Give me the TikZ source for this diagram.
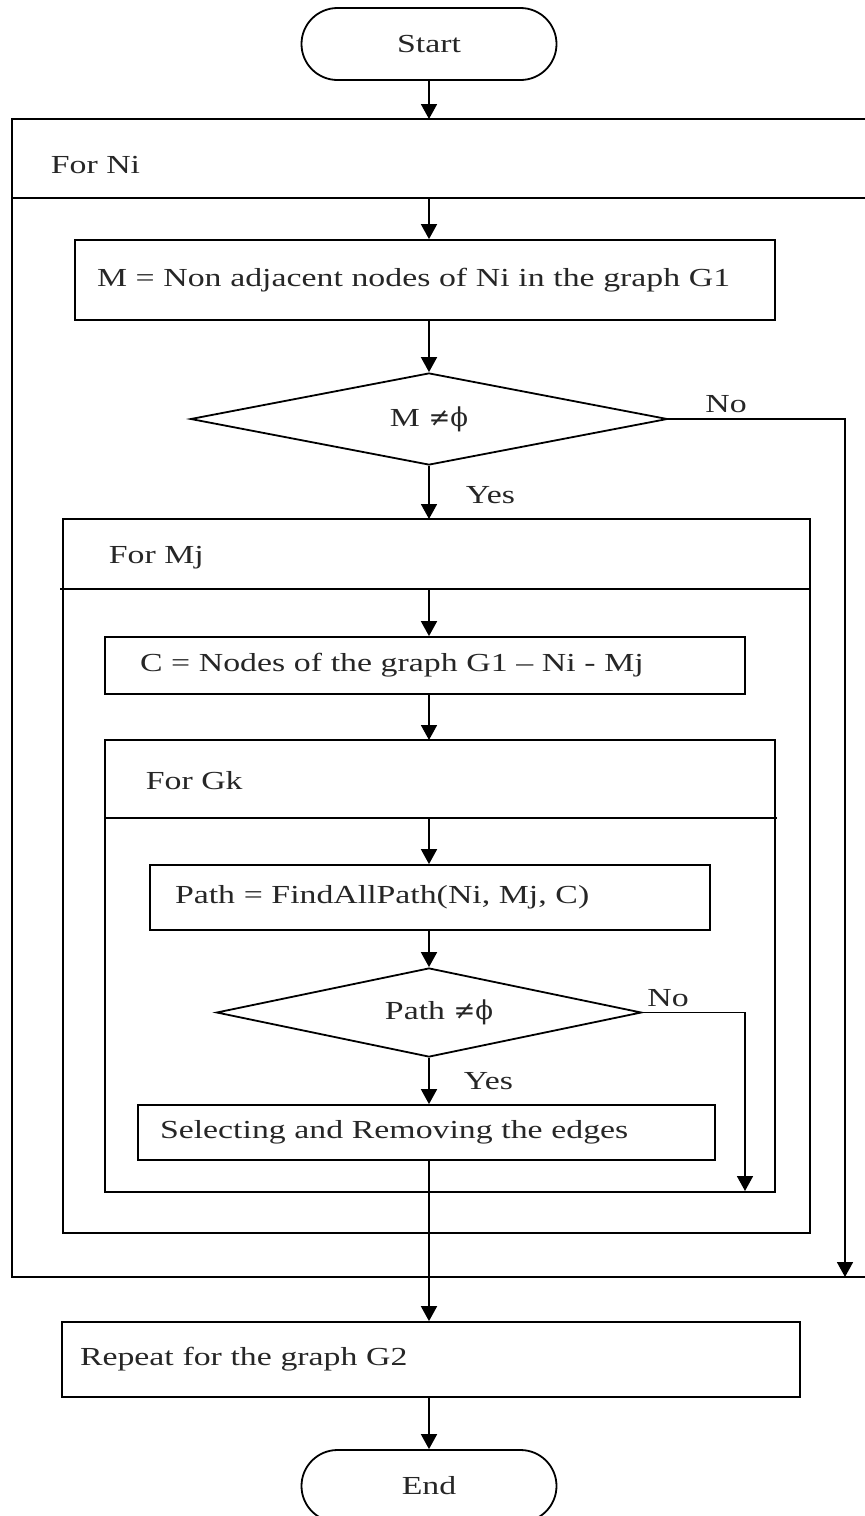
\documentclass[tikz,border=0pt]{standalone}
\usepackage{fontspec}
\setmainfont{Liberation Serif}[FakeStretch=1.3]
\newfontfamily\symfont{DejaVu Serif}
\usetikzlibrary{shapes.geometric,arrows.meta}
\begin{document}
\begin{tikzpicture}[x=1pt,y=-1pt,
  line width=1.8pt,
  every node/.style={font=\fontsize{26}{30}\selectfont, text=black!85},
  arr/.style={-{Triangle[width=16pt,length=15pt]}},
  term/.style={draw, rectangle, rounded corners=36pt, minimum width=255pt, minimum height=72pt, inner sep=0pt},
  proc/.style={draw, rectangle, inner xsep=0pt, inner ysep=0pt, align=left},
  dec/.style={draw, diamond, aspect=5, inner sep=0pt},
  lbl/.style={inner sep=0pt},
]
\useasboundingbox (0,0) rectangle (865,1516);
\coordinate (ax) at (429,0);

% Start
\node[term] (start) at (429,44) {Start};

% outer loop box (For Ni)
\coordinate (oTL) at (12,119);  \coordinate (oTR) at (866,119);
\coordinate (oHL) at (12,198);  \coordinate (oHR) at (866,198);
\coordinate (oBL) at (12,1277); \coordinate (oBR) at (866,1277);
\draw (oTR) -- (oTL) -- (oBL) -- (oBR);
\draw (oHL) -- (oHR);
\node[lbl, anchor=west] (forNi) at (50,165) {For Ni};
\draw[arr] (ax |- start.south) -- (ax |- oTL);

% M box
\node[proc, minimum width=700, minimum height=80, text width=700] (m) at (425,280)
  {\hspace*{22pt}M = Non adjacent nodes of Ni in the graph G1\\[-8pt]};
\draw[arr] (ax |- oHL) -- (ax |- m.north);

% decision M
\node[dec, minimum width=477, minimum height=92] (d1) at (429,419) {M {\symfont ≠ϕ}};
\draw[arr] (ax |- m.south) -- (d1.north);
\coordinate (no1) at (845,1277);
\draw[arr] (d1.east) -- (d1.east -| no1) -- (no1);
\node[lbl] (no1lbl) at (726,404) {No};

% Mj loop box
\coordinate (mjTL) at (63,519); \coordinate (mjBR) at (810,1233);
\draw (mjTL) rectangle (mjBR);
\coordinate (mjHL) at (60,589); \coordinate (mjHR) at (810,589);
\draw (mjHL) -- (mjHR);
\node[lbl, anchor=west] (forMj) at (108,558) {For Mj};
\draw[arr] (d1.south) -- (d1.south |- mjTL);
\node[lbl, anchor=west] (yes1) at (465,495) {Yes};

% C box
\node[proc, minimum width=640, minimum height=57, text width=640] (c) at (425,665.5)
  {\hspace*{35pt}C = Nodes of the graph G1 – Ni - Mj};
\draw[arr] (ax |- mjHL) -- (ax |- c.north);

% Gk loop box
\coordinate (gkTL) at (105,740); \coordinate (gkBR) at (775,1192);
\draw (gkTL) rectangle (gkBR);
\coordinate (gkHL) at (105,818); \coordinate (gkHR) at (777,818);
\draw (gkHL) -- (gkHR);
\node[lbl, anchor=west] (forGk) at (145,781) {For Gk};
\draw[arr] (ax |- c.south) -- (ax |- gkTL);

% Path box
\node[proc, minimum width=560, minimum height=65, text width=560] (p) at (430,897.5)
  {\hspace*{25pt}Path = FindAllPath(Ni, Mj, C)};
\draw[arr] (ax |- gkHL) -- (ax |- p.north);

% decision Path
\node[dec, minimum width=425, minimum height=89] (d2) at (429,1012.5) {\hspace*{20pt}Path {\symfont ≠ϕ}};
\draw[arr] (ax |- p.south) -- (d2.north);
\coordinate (no2) at (745,1191);
\draw[arr] (d2.east) -- (d2.east -| no2) -- (no2);
\node[lbl] (no2lbl) at (668,998) {No};

% Selecting box
\node[proc, minimum width=577, minimum height=55, text width=577] (s) at (426.5,1132.5)
  {\hspace*{22pt}Selecting and Removing the edges};
\draw[arr] (d2.south) -- (d2.south |- s.north);
\node[lbl, anchor=west] (yes2) at (463,1081) {Yes};

% Repeat box
\node[proc, minimum width=738, minimum height=75, text width=738] (r) at (431,1359.5)
  {\hspace*{18pt}Repeat for the graph G2};
\draw[arr] (ax |- s.south) -- (ax |- r.north);

% End
\node[term] (end) at (429,1486) {End};
\draw[arr] (ax |- r.south) -- (ax |- end.north);
\end{tikzpicture}
\end{document}
